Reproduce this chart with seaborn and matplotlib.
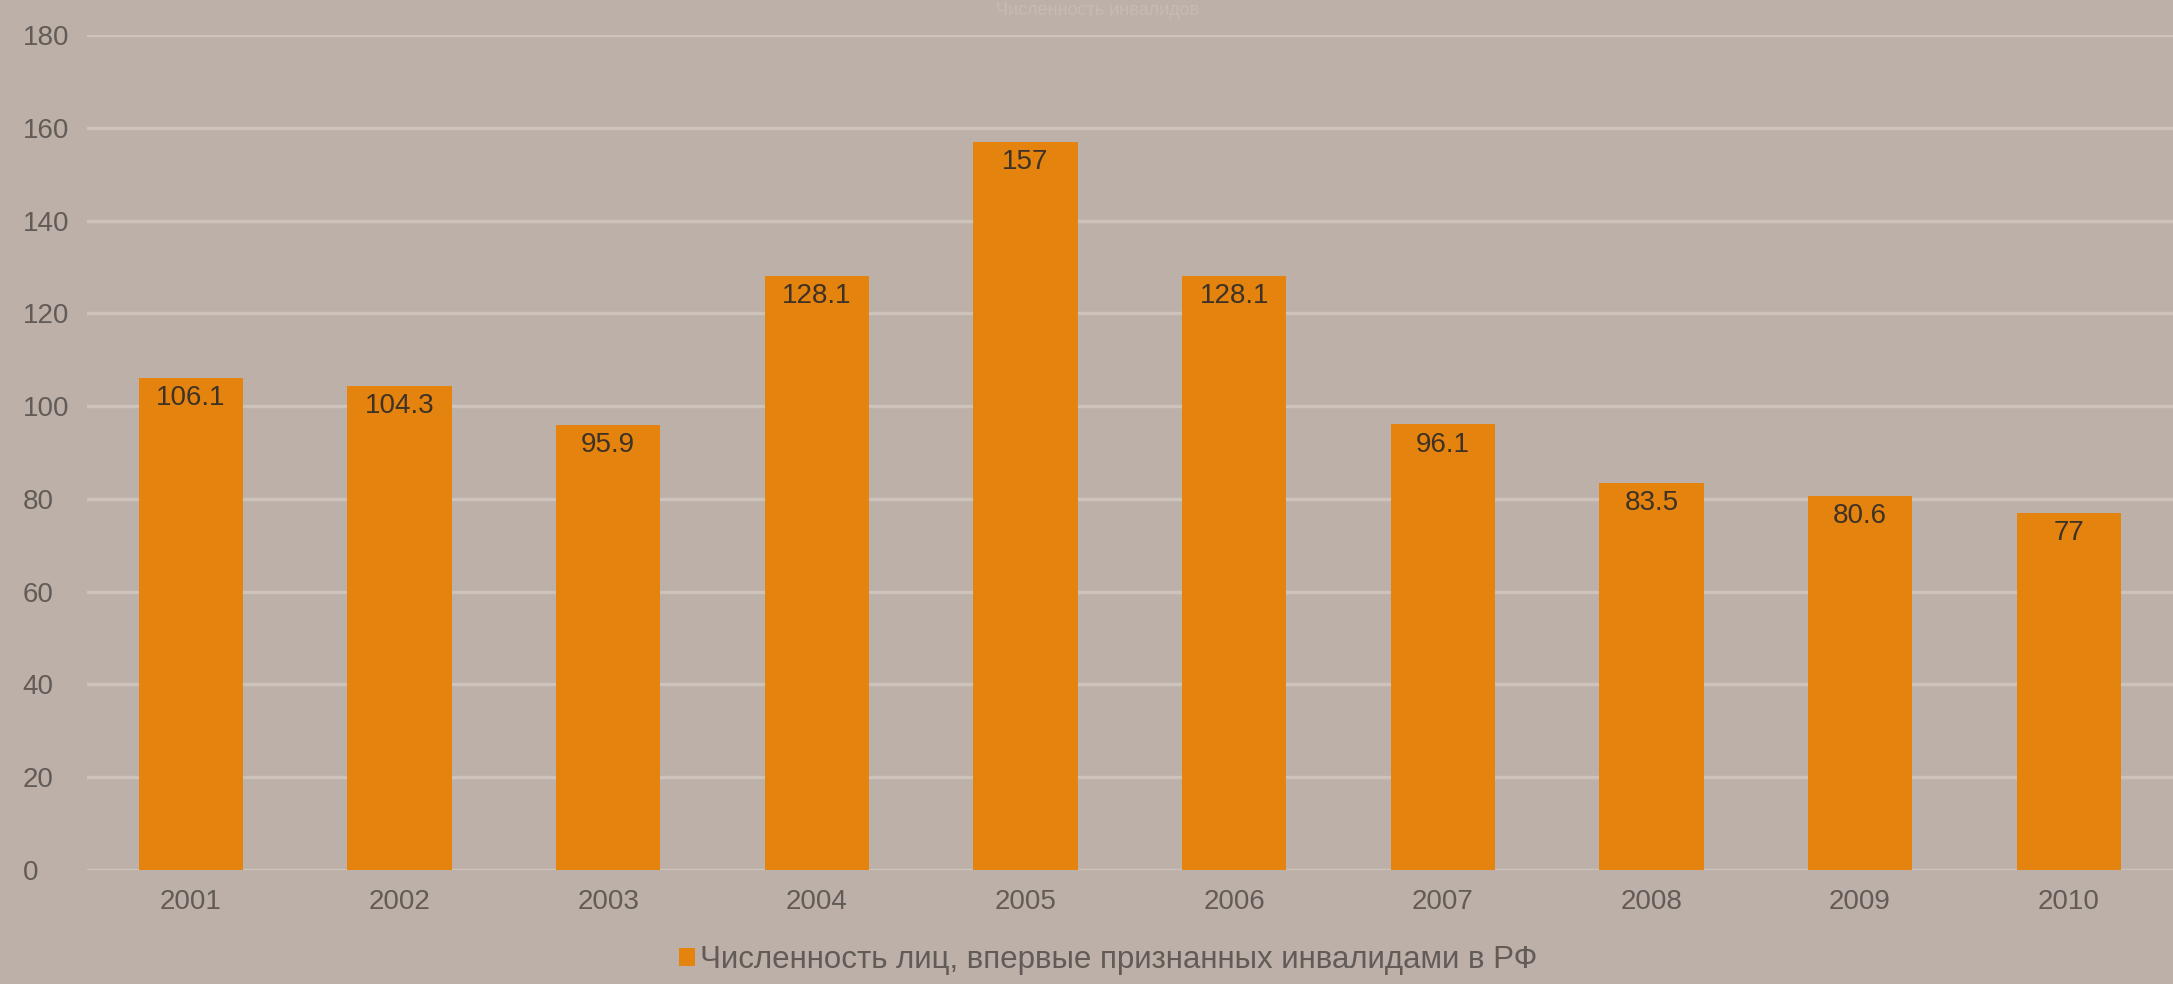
"""Численность лиц, впервые признанных инвалидами в РФ (2001-2010), столбчатая диаграмма."""

import matplotlib

matplotlib.use("Agg")

import matplotlib.pyplot as plt
import pandas as pd
import seaborn as sns


YEARS = ["2001", "2002", "2003", "2004", "2005", "2006", "2007", "2008", "2009", "2010"]
VALUES = [106.1, 104.3, 95.9, 128.1, 157, 128.1, 96.1, 83.5, 80.6, 77]
VALUE_LABELS = ["106.1", "104.3", "95.9", "128.1", "157", "128.1", "96.1", "83.5", "80.6", "77"]
Y_TICKS = [0, 20, 40, 60, 80, 100, 120, 140, 160, 180]
SERIES_NAME = "Численность лиц, впервые признанных инвалидами в РФ"
TITLE = "Численность инвалидов"

BG_COLOR = "#BCB0A8"
BAR_COLOR = "#E5830F"
GRID_COLOR = "#CDC3BC"
TICK_COLOR = "#625B57"
LABEL_COLOR = "#3E3226"


def main() -> None:
    sns.set_theme(style="white")
    plt.rcParams["font.family"] = ["Liberation Sans", "DejaVu Sans"]

    df = pd.DataFrame({"year": YEARS, "value": VALUES, "series": SERIES_NAME})

    fig = plt.figure(figsize=(21.73, 9.84), dpi=100, facecolor=BG_COLOR)
    ax = fig.add_axes([0.0399, 0.1159, 0.9601, 0.8485])
    ax.set_facecolor(BG_COLOR)

    sns.barplot(
        data=df,
        x="year",
        y="value",
        hue="series",
        palette=[BAR_COLOR],
        width=0.5,
        saturation=1,
        linewidth=0,
        ax=ax,
        zorder=3,
    )

    ax.set_ylim(0, 180)
    ax.set_yticks(Y_TICKS)
    ax.set_xlim(-0.5, len(YEARS) - 0.5)
    ax.yaxis.grid(True, color=GRID_COLOR, linewidth=2.5, zorder=0)
    ax.set_axisbelow(True)
    for spine in ax.spines.values():
        spine.set_visible(False)

    ax.set_xlabel("")
    ax.set_ylabel("")
    ax.tick_params(axis="both", length=0, labelsize=20, labelcolor=TICK_COLOR)
    ax.tick_params(axis="x", pad=14)
    ax.tick_params(axis="y", pad=46)
    for label in ax.get_yticklabels():
        label.set_horizontalalignment("left")

    # подписи значений внутри верхней части столбцов
    ax.bar_label(
        ax.containers[0],
        labels=VALUE_LABELS,
        padding=-24,
        fontsize=20,
        color=LABEL_COLOR,
    )

    sns.move_legend(
        ax,
        "center",
        bbox_to_anchor=(0.51, 0.024),
        bbox_transform=fig.transFigure,
        frameon=False,
        title=None,
        fontsize=22.5,
        handlelength=0.5,
        handleheight=0.5,
        handletextpad=0.15,
        labelcolor=TICK_COLOR,
    )

    # бледный заголовок у самого верхнего края
    fig.text(
        0.505,
        1 - 2 / 984,
        TITLE,
        ha="center",
        va="top",
        fontsize=13,
        color="#C6BBB4",
    )

    fig.savefig("out.png", dpi=100, facecolor=BG_COLOR)
    plt.close(fig)


if __name__ == "__main__":
    main()
